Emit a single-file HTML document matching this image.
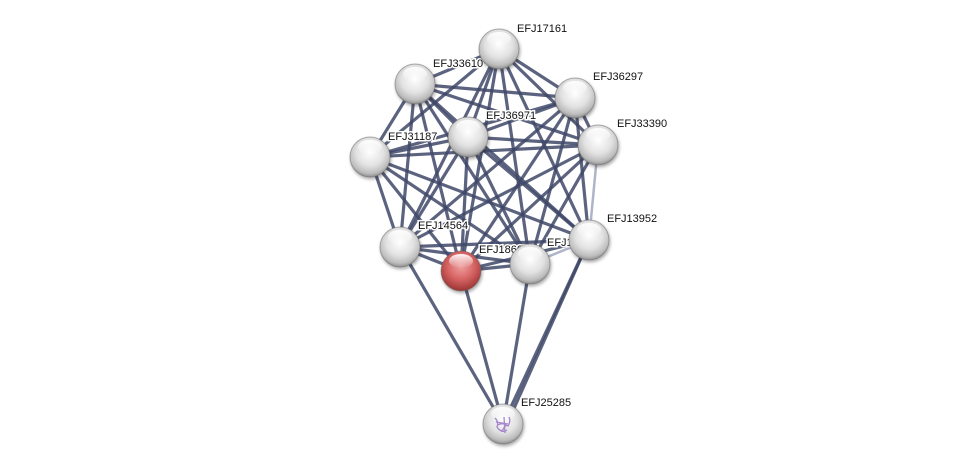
<!DOCTYPE html>
<html><head><meta charset="utf-8"><style>
html,body{margin:0;padding:0;background:#fff;width:976px;height:469px;overflow:hidden}
text{font-family:"Liberation Sans",Arial,sans-serif;font-size:11px;fill:#111}
</style></head><body>
<svg width="976" height="469" viewBox="0 0 976 469" xmlns="http://www.w3.org/2000/svg">
<defs>
<radialGradient id="gw" cx="50%" cy="38%" r="62%">
<stop offset="0" stop-color="#ffffff"/><stop offset="0.55" stop-color="#e2e2e2"/><stop offset="0.85" stop-color="#bdbdbd"/><stop offset="1" stop-color="#8f8f8f"/></radialGradient>
<radialGradient id="gr" cx="50%" cy="38%" r="62%">
<stop offset="0" stop-color="#f0a0a0"/><stop offset="0.55" stop-color="#d66262"/><stop offset="1" stop-color="#9a3434"/></radialGradient>
<linearGradient id="hl" x1="0" y1="0" x2="0" y2="1">
<stop offset="0" stop-color="#fff" stop-opacity="0.95"/><stop offset="1" stop-color="#fff" stop-opacity="0"/></linearGradient>
<filter id="sh" x="-30%" y="-30%" width="160%" height="160%"><feDropShadow dx="1" dy="2" stdDeviation="1.5" flood-color="#000" flood-opacity="0.35"/></filter>
</defs>
<g stroke="#3f4869" stroke-width="3.2" stroke-opacity="0.85" fill="none">
<line x1="499" y1="49" x2="415" y2="84"/><line x1="499" y1="49" x2="575" y2="98"/><line x1="499" y1="49" x2="468" y2="137"/><line x1="499" y1="49" x2="370" y2="157"/><line x1="499" y1="49" x2="598" y2="145"/><line x1="499" y1="49" x2="589" y2="240"/><line x1="499" y1="49" x2="400" y2="247"/><line x1="499" y1="49" x2="461" y2="271"/><line x1="499" y1="49" x2="530" y2="264"/>
<line x1="415" y1="84" x2="575" y2="98"/><line x1="415" y1="84" x2="468" y2="137"/><line x1="415" y1="84" x2="370" y2="157"/><line x1="415" y1="84" x2="598" y2="145"/><line x1="415" y1="84" x2="589" y2="240"/><line x1="415" y1="84" x2="400" y2="247"/><line x1="415" y1="84" x2="461" y2="271"/><line x1="415" y1="84" x2="530" y2="264"/>
<line x1="575" y1="98" x2="468" y2="137"/><line x1="575" y1="98" x2="370" y2="157"/><line x1="575" y1="98" x2="598" y2="145"/><line x1="575" y1="98" x2="589" y2="240"/><line x1="575" y1="98" x2="400" y2="247"/><line x1="575" y1="98" x2="461" y2="271"/><line x1="575" y1="98" x2="530" y2="264"/>
<line x1="468" y1="137" x2="370" y2="157"/><line x1="468" y1="137" x2="598" y2="145"/><line x1="468" y1="137" x2="589" y2="240"/><line x1="468" y1="137" x2="400" y2="247"/><line x1="468" y1="137" x2="461" y2="271"/><line x1="468" y1="137" x2="530" y2="264"/>
<line x1="370" y1="157" x2="598" y2="145"/><line x1="370" y1="157" x2="589" y2="240"/><line x1="370" y1="157" x2="400" y2="247"/><line x1="370" y1="157" x2="461" y2="271"/><line x1="370" y1="157" x2="530" y2="264"/>
<line x1="598" y1="145" x2="400" y2="247"/><line x1="598" y1="145" x2="461" y2="271"/><line x1="598" y1="145" x2="530" y2="264"/>
<line x1="400" y1="247" x2="461" y2="271"/><line x1="400" y1="247" x2="530" y2="264"/><line x1="400" y1="247" x2="589" y2="240"/>
<line x1="461" y1="271" x2="530" y2="264"/><line x1="461" y1="271" x2="589" y2="240"/>
<line x1="400" y1="247" x2="503" y2="424"/><line x1="461" y1="271" x2="503" y2="424"/><line x1="530" y1="264" x2="503" y2="424"/><line x1="589" y1="240" x2="503" y2="424"/><line x1="589" y1="240" x2="507" y2="424"/>
</g>
<g stroke="#9aa3bb" stroke-width="2.5" stroke-opacity="0.8">
<line x1="598" y1="145" x2="589" y2="240"/><line x1="530" y1="264" x2="589" y2="240"/>
</g>
<g stroke="#666" stroke-opacity="0.5" stroke-width="1" filter="url(#sh)">
<circle cx="370" cy="157" r="20" fill="url(#gw)"/>
<circle cx="415" cy="84" r="20" fill="url(#gw)"/>
<circle cx="575" cy="98" r="20" fill="url(#gw)"/>
<circle cx="598" cy="145" r="20" fill="url(#gw)"/>
<circle cx="468" cy="137" r="20" fill="url(#gw)"/>
<circle cx="400" cy="247" r="20" fill="url(#gw)"/>
<circle cx="461" cy="271" r="20" fill="url(#gr)"/>
</g>
<g>
<text x="433" y="67" stroke="#fff" stroke-width="3" paint-order="stroke">EFJ33610</text>
<text x="388" y="140" stroke="#fff" stroke-width="3" paint-order="stroke">EFJ31187</text>
<text x="486" y="119" stroke="#fff" stroke-width="3" paint-order="stroke">EFJ36971</text>
<text x="593" y="80" stroke="#fff" stroke-width="3" paint-order="stroke">EFJ36297</text>
<text x="617" y="127" stroke="#fff" stroke-width="3" paint-order="stroke">EFJ33390</text>
<text x="418" y="229" stroke="#fff" stroke-width="3" paint-order="stroke">EFJ14564</text>
<text x="479" y="253" stroke="#fff" stroke-width="3" paint-order="stroke">EFJ18600</text>
<text x="547" y="246" stroke="#fff" stroke-width="3" paint-order="stroke">EFJ12345</text>
<text x="607" y="222" stroke="#fff" stroke-width="3" paint-order="stroke">EFJ13952</text>
<text x="517" y="32" stroke="#fff" stroke-width="3" paint-order="stroke">EFJ17161</text>
<text x="521" y="406" stroke="#fff" stroke-width="3" paint-order="stroke">EFJ25285</text>
</g>
<g stroke="#666" stroke-opacity="0.5" stroke-width="1" filter="url(#sh)">
<circle cx="499" cy="49" r="20" fill="url(#gw)"/>
<circle cx="530" cy="264" r="20" fill="url(#gw)"/>
<circle cx="589" cy="240" r="20" fill="url(#gw)"/>
<circle cx="503" cy="424" r="20" fill="url(#gw)"/>
</g>
<g fill="url(#hl)">
<ellipse cx="370" cy="147" rx="12" ry="7"/><ellipse cx="415" cy="74" rx="12" ry="7"/><ellipse cx="575" cy="88" rx="12" ry="7"/>
<ellipse cx="598" cy="135" rx="12" ry="7"/><ellipse cx="468" cy="127" rx="12" ry="7"/><ellipse cx="400" cy="237" rx="12" ry="7"/>
<ellipse cx="461" cy="261" rx="12" ry="7"/><ellipse cx="499" cy="39" rx="12" ry="7"/><ellipse cx="530" cy="254" rx="12" ry="7"/>
<ellipse cx="589" cy="230" rx="12" ry="7"/><ellipse cx="503" cy="414" rx="12" ry="7"/>
</g>
<g stroke="#a07ac8" stroke-width="1.3" fill="none" opacity="0.9">
<path d="M495 418 q4 4 2 9 q3 5 6 3 q2 -6 5 -4 q3 -5 1 -9 M498 425 q5 -3 9 1 M500 430 q3 3 7 0 M504 417 l1 16 M496 422 l12 2"/>
</g>
</svg>
</body></html>
